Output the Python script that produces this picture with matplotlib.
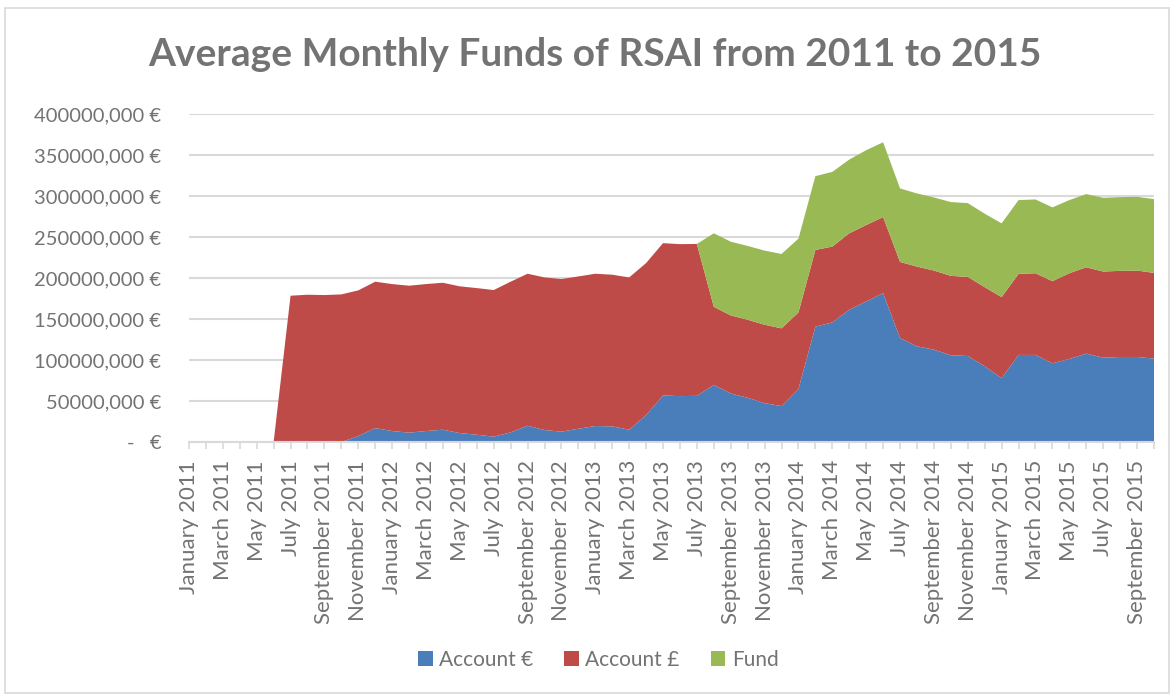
import matplotlib
matplotlib.use("Agg")
import matplotlib.pyplot as plt
import matplotlib.ticker as mticker
from matplotlib.patches import Rectangle, Patch
import numpy as np

plt.rcParams["font.family"] = ["Lato", "DejaVu Sans"]

# months January 2011 .. October 2015
MONTH_NAMES = ["January", "February", "March", "April", "May", "June", "July",
               "August", "September", "October", "November", "December"]
months = [f"{MONTH_NAMES[i % 12]} {2011 + i // 12}" for i in range(58)]

# values in millions of euros
account_eur = [0, 0, 0, 0, 0, 0, 0, 0, 0, 0,
               7.3, 17.0, 13.4, 11.4, 13.4, 15.0, 10.9, 8.9, 6.5, 11.8,
               19.9, 14.6, 12.6, 16.2, 19.5, 19.1, 15.0, 32.8, 56.8, 56.0,
               56.3, 69.7, 59.2, 53.9, 47.4, 43.8, 64.8, 140.6, 145.9, 161.3,
               171.4, 181.5, 126.8, 116.7, 112.6, 105.8, 104.9, 92.4, 77.8, 106.2,
               106.2, 96.0, 101.3, 107.8, 102.9, 103.7, 103.7, 101.7]
account_gbp = [0, 0, 0, 0, 0, 0, 178.4, 179.6, 179.2, 180.0,
               177.6, 178.5, 179.2, 179.2, 179.2, 179.2, 178.9, 178.8, 178.8, 183.7,
               185.3, 186.1, 186.1, 185.7, 185.7, 184.9, 185.7, 185.4, 185.7, 185.3,
               185.2, 95.2, 95.2, 95.2, 95.6, 94.8, 93.2, 93.6, 92.4, 93.2,
               93.2, 92.8, 92.8, 97.2, 96.5, 96.8, 96.5, 96.4, 98.9, 98.8,
               99.6, 100.1, 104.5, 105.3, 105.0, 105.0, 105.4, 104.5]
fund = [0] * 30 + [0, 89.6, 89.9, 90.0, 90.4, 90.7, 90.0, 90.0, 91.1, 89.9,
                   91.2, 91.2, 89.6, 89.2, 89.1, 90.0, 89.9, 89.6, 89.9, 90.0,
                   90.0, 90.0, 89.2, 89.2, 89.9, 89.9, 89.9, 90.0]
series_names = ["Account \u20ac", "Account \u00a3", "Fund"]
colors = ["#4A7EBB", "#BE4B48", "#98B954"]

TXT = "#737373"
GRID = "#D9D9D9"

x = np.arange(len(months))
ys = [np.array(s) * 1e6 for s in (account_eur, account_gbp, fund)]

fig = plt.figure(figsize=(11.73, 6.95), dpi=100)
fig.patches.append(Rectangle((0.004, 0.003), 0.993, 0.985, transform=fig.transFigure,
                             fill=False, edgecolor=GRID, lw=1.2))
ax = fig.add_axes([0.1611, 0.364, 0.8227, 0.472])
ax.stackplot(x, *ys, colors=colors, labels=series_names, lw=0)

ax.set_xlim(0, len(months) - 1)
ax.set_ylim(0, 400e6)
ax.yaxis.set_major_locator(mticker.MultipleLocator(50e6))


def eur_fmt(v, pos):
    v = int(round(v))
    if v == 0:
        return "-   \u20ac"
    return f"{v // 1000},{v % 1000:03d} \u20ac"


ax.yaxis.set_major_formatter(mticker.FuncFormatter(eur_fmt))
ax.grid(axis="y", color=GRID, lw=1.5)
ax.set_axisbelow(True)
for s in ["top", "right", "left"]:
    ax.spines[s].set_visible(False)
ax.spines["bottom"].set_color(GRID)
ax.spines["bottom"].set_linewidth(1.5)
ax.spines["bottom"].set_zorder(5)

ax.set_xticks(x[::2])
ax.set_xticklabels(months[::2], rotation=90)
ax.set_xticks(x, minor=True)
ax.tick_params(axis="x", which="both", length=5, color=GRID, width=1.2,
               labelsize=16, labelcolor=TXT, pad=8)
ax.tick_params(axis="y", length=0, labelsize=14.5, labelcolor=TXT, pad=20)

fig.text(0.507, 0.921, "Average Monthly Funds of RSAI from 2011 to 2015",
         ha="center", va="center", fontsize=28, fontweight="bold", color=TXT)

handles = [Patch(facecolor=c, edgecolor="none") for c in colors]
fig.legend(handles, series_names, loc="center", bbox_to_anchor=(0.51, 0.051),
           ncol=3, frameon=False, fontsize=15, labelcolor=TXT,
           handlelength=0.7, handleheight=0.7, handletextpad=0.3, columnspacing=1.5)

fig.savefig("out.png", dpi=100)
